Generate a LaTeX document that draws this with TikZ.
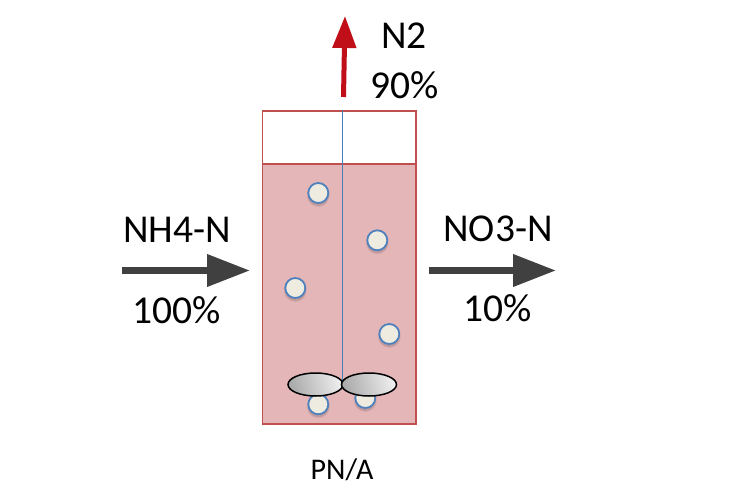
\documentclass[tikz,border=0pt]{standalone}
\usepackage{fontspec}
\setmainfont{Carlito}
\usetikzlibrary{arrows.meta,shapes.geometric,shadings}
\tikzset{
  x=1pt,y=-1pt,
  bigtext/.style={inner sep=0pt,font=\fontsize{39.5}{44}\selectfont,text=black},
  flowarrow/.style={draw=arrowgray,line width=7pt,-{Triangle[length=43pt,width=31pt]},shorten >=0pt},
  redarrow/.style={draw=arrowred,line width=5pt,-{Triangle[length=32pt,width=23pt]}},
  bead/.style={circle,draw=beadblue,line width=1.8pt,fill=beadfill,minimum size=20pt,inner sep=0pt},
  blade/.style={ellipse,draw=black,line width=1.5pt,minimum width=55pt,minimum height=23pt,inner sep=0pt,
    left color=bladedark,right color=bladelight,shading angle=105},
}
\definecolor{arrowgray}{HTML}{404040}
\definecolor{arrowred}{HTML}{C00F18}
\definecolor{tankred}{HTML}{C0504D}
\definecolor{tankfill}{HTML}{E4B6B8}
\definecolor{beadblue}{HTML}{4F81BD}
\definecolor{beadfill}{HTML}{EEECE1}
\definecolor{bladedark}{HTML}{AAAAAA}
\definecolor{bladelight}{HTML}{EEEEEE}
\definecolor{shaftblue}{HTML}{4A7EBB}
\newcommand{\beadat}[3]{%
  \fill[black,opacity=.06] (#2,#3+2.5) circle (11.5pt);
  \fill[black,opacity=.10] (#2,#3+2.5) circle (10.5pt);
  \node[bead] (#1) at (#2,#3) {};
}
\begin{document}
\begin{tikzpicture}
\useasboundingbox (0,0) rectangle (746,487);
\fill[white] (0,0) rectangle (746,487);
\node[draw=tankred,line width=1.8pt,fill=white,minimum width=153.2pt,minimum height=54pt,inner sep=0pt,anchor=north west] (headspace) at (261.5,109.7) {};
\node[draw=tankred,line width=1.8pt,fill=tankfill,minimum width=153.2pt,minimum height=260pt,inner sep=0pt,anchor=north west] (liquid) at (261.5,162.7) {};
\beadat{b1}{318.3}{193}
\beadat{b2}{377.3}{240.3}
\beadat{b3}{295.3}{288}
\beadat{b4}{389.3}{334}
\beadat{b5}{318.3}{404.3}
\beadat{b6}{365.3}{398}
\coordinate (shafttop) at (342.3,110);
\coordinate (hub) at (342.3,384.5);
\draw[shaftblue,line width=1.6pt] (shafttop) -- (hub);
\node[blade] (bladeL) at (315.5,384.5) {};
\node[blade] (bladeR) at (369,384.5) {};
\coordinate (redtail) at (343.5,97);
\coordinate (redtip) at (345,16);
\draw[redarrow] (redtail) -- (redtip);
\coordinate (inA) at (122,270.5);
\coordinate (inB) at (250,270.5);
\draw[flowarrow] (inA) -- (inB);
\coordinate (outA) at (429,270.5);
\coordinate (outB) at (556,270.5);
\draw[flowarrow] (outA) -- (outB);
\node[bigtext] (n2) at (404,36) {N2};
\node[bigtext] (p90) at (404.5,85) {90\%};
\node[bigtext] (nh4) at (177,230) {NH4-N};
\node[bigtext] (p100) at (177,310) {100\%};
\node[bigtext] (no3) at (498,229) {NO3-N};
\node[bigtext] (p10) at (497.5,308) {10\%};
\node[inner sep=0pt,font=\fontsize{30}{34}\selectfont] (pna) at (342,470) {PN/A};
\end{tikzpicture}
\end{document}
